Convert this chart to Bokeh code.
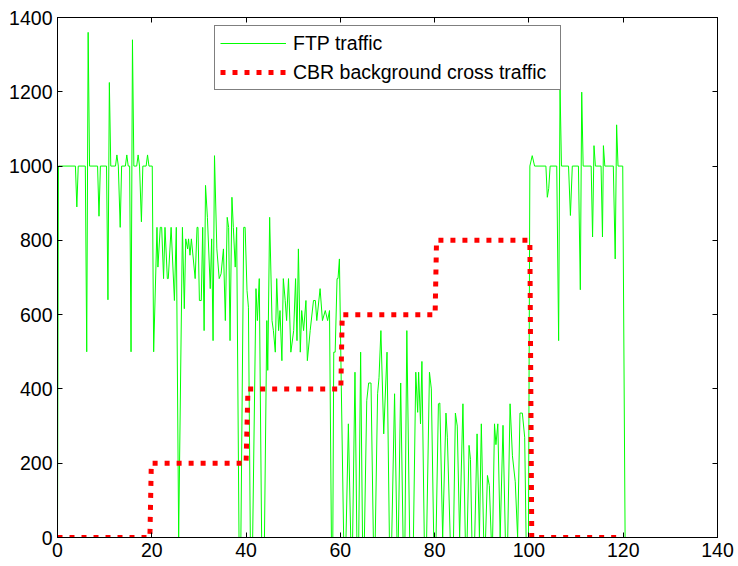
from bokeh.plotting import figure
from bokeh.models import (Range1d, FixedTicker, LinearAxis, Legend, LegendItem,
                          ColumnDataSource)
from bokeh.embed import file_html
from bokeh.resources import INLINE

# FTP throughput samples (time in s, rate)
ftp_t = [0, 0.2, 3.8, 4.1, 4.4, 5.9, 6.2, 6.5, 6.8, 8.5, 8.8, 9.1, 10.4, 10.7, 11.0, 11.3,
         12.3, 12.6, 12.9, 13.3, 13.6, 14.4, 14.7, 15.0, 15.3, 15.6, 15.9, 16.2, 16.8, 17.1,
         17.4, 17.8, 18.1, 18.8, 19.1, 19.4, 20.1, 20.4,
         21.1, 21.3, 21.8, 22.1, 22.5, 22.8, 23.3, 23.5, 24.1, 24.8, 25.2, 25.7, 26.5, 26.9,
         27.2, 27.6, 27.8, 28.1, 28.4, 29.2, 29.6, 29.8, 30.1, 30.5, 30.8, 31.1, 31.4, 31.8,
         32.4, 32.7, 33.0, 33.3, 33.8, 34.3, 34.7, 35.2, 35.6, 36.0, 36.3, 36.6, 37.0, 37.3,
         37.7, 38.0, 38.5, 38.9, 39.5, 39.8,
         40.2, 40.5, 40.9, 41.4, 42.1, 42.4, 42.8, 43.3, 43.9, 44.4, 44.6, 45.0, 45.5, 45.8,
         46.2, 46.5, 46.9, 47.2, 47.6, 47.9, 48.3, 48.6, 49.0, 49.5, 50.1, 50.5, 50.8, 51.1,
         51.5, 51.8, 52.2, 52.7, 53.0, 53.6, 54.3, 54.7, 55.0, 55.7, 56.2, 56.8, 57.3, 57.7,
         58.1, 58.4, 58.6, 58.9, 59.3, 59.5, 59.8, 60.2, 60.7,
         61.2, 61.7, 62.2, 62.6, 63.1, 63.5, 63.9, 64.3, 64.7, 65.1, 65.6, 66.0, 66.5, 67.0,
         67.4, 67.9, 68.2, 68.6, 69.2, 69.9, 70.4, 70.9, 71.5, 72.0, 72.3, 72.8, 73.3, 73.7,
         74.1, 74.7, 75.5, 76.0, 76.4, 76.6, 77.0, 77.3, 77.8, 78.3, 78.9, 79.3, 79.8, 80.3,
         80.8, 81.1, 81.7, 82.4, 82.7, 83.3, 84.0, 84.4, 84.8, 85.3, 86.0, 86.5, 86.9, 87.3,
         87.6, 87.9, 88.5, 89.0, 89.5, 89.9, 90.4, 90.8, 91.2, 91.6, 92.0, 92.3, 92.7, 93.0,
         93.4, 93.9, 94.5, 95.0, 95.5, 96.0, 96.5, 97.1, 97.6, 98.1, 98.6, 99.1, 99.4, 99.9,
         100.2, 100.7, 101.2, 103.6, 103.9, 104.2, 104.5, 105.9, 106.3, 106.6, 106.9, 108.4,
         108.8, 109.2, 110.5, 110.9, 111.2, 111.5, 113.2, 113.5, 113.8, 114.1, 115.3, 115.6,
         115.8, 116.1, 117.9, 118.3, 118.6, 118.9, 119.9, 120.4]
ftp_v = [0, 1000, 1000, 890, 1000, 1000, 500, 1360, 1000, 1000, 865, 1000, 1000, 640, 1225, 1000,
         1000, 1030, 1000, 835, 1000, 1000, 1030, 1000, 1000, 500, 1340, 1000, 1000, 1030,
         1000, 850, 1000, 1000, 1030, 1000, 1000, 500,
         835, 728, 835, 835, 697, 835, 697, 697, 835, 638, 835, 0, 835, 616,
         804, 777, 804, 760, 804, 697, 835, 835, 638, 638, 835, 557, 948, 862,
         670, 804, 530, 1028, 777, 697, 710, 777, 584, 862, 835, 530, 916, 835,
         728, 835, 0, 0, 835, 835,
         665, 620, 0, 0, 670, 584, 697, 0, 0, 584, 450, 862, 584, 557,
         499, 697, 557, 611, 476, 697, 638, 584, 697, 499, 557, 697, 530, 777,
         499, 611, 557, 638, 476, 557, 638, 638, 584, 670, 584, 611, 584, 611,
         0, 0, 499, 499, 697, 697, 750, 405, 0,
         0, 306, 0, 0, 445, 0, 0, 499, 0, 0, 369, 416, 416, 0,
         0, 387, 430, 557, 279, 499, 0, 0, 387, 0, 0, 416, 0, 0,
         557, 0, 0, 445, 337, 445, 306, 474, 0, 0, 445, 400, 0, 0,
         360, 362, 0, 335, 270, 0, 0, 335, 300, 0, 360, 0, 0, 248,
         210, 0, 0, 279, 0, 306, 0, 0, 167, 140, 0, 0, 306, 250,
         306, 0, 302, 0, 0, 360, 220, 150, 0, 335, 335, 270, 0, 0,
         1000, 1028, 1000, 1000, 916, 940, 1000, 1000, 530, 1215, 1000, 1000,
         867, 1000, 1000, 667, 1199, 1000, 1000, 809, 1055, 1000, 1000, 809,
         1055, 1000, 1000, 750, 1111, 1000, 1000, 0]

# CBR cross traffic: constant-rate steps
cbr_t = [0, 19.6, 19.9, 40.0, 40.4, 60.1, 60.4, 80.1, 80.4, 100.2, 100.6, 120]
cbr_v = [0, 0, 200, 200, 400, 400, 600, 600, 800, 800, 0, 0]

x_ticks = [0, 20, 40, 60, 80, 100, 120, 140]
y_ticks = [0, 200, 400, 600, 800, 1000, 1200, 1400]

FONT = "Liberation Sans"
FSIZE = "19.5px"

p = figure(width=738, height=566, output_backend="svg", toolbar_location=None,
           x_range=Range1d(0, 140), y_range=Range1d(0, 1400),
           min_border_left=57, min_border_right=21, min_border_top=17,
           min_border_bottom=29, x_axis_location=None, y_axis_location=None)
p.grid.visible = False
p.outline_line_color = "black"
p.outline_line_width = 1
p.background_fill_color = "white"
p.border_fill_color = "white"


def make_axis(ticks, labels=True):
    ax = LinearAxis(ticker=FixedTicker(ticks=ticks))
    ax.major_tick_in = 5
    ax.major_tick_out = 0
    ax.minor_tick_line_color = None
    ax.axis_line_color = "black"
    ax.major_tick_line_color = "black"
    ax.major_label_text_font = FONT
    if labels:
        ax.major_label_text_color = "black"
        ax.major_label_text_font_size = FSIZE
        ax.major_label_standoff = 5
    else:
        # tick marks only on the mirrored sides
        ax.major_label_text_color = None
        ax.major_label_text_font_size = "0px"
        ax.major_label_standoff = 0
    return ax


p.add_layout(make_axis(x_ticks), "below")
p.add_layout(make_axis(y_ticks), "left")
p.add_layout(make_axis(x_ticks, labels=False), "above")
p.add_layout(make_axis(y_ticks, labels=False), "right")

ftp_src = ColumnDataSource(data=dict(t=ftp_t, v=ftp_v))
cbr_src = ColumnDataSource(data=dict(t=cbr_t, v=cbr_v))

g = p.line("t", "v", source=ftp_src, line_color="#00ff00", line_width=1)
r = p.line("t", "v", source=cbr_src, line_color="#ff0000", line_width=5,
           line_dash="5 7", line_cap="butt")

legend = Legend(items=[LegendItem(label="FTP traffic", renderers=[g]),
                       LegendItem(label="CBR background cross traffic", renderers=[r])],
                location=(157, 447), orientation="vertical",
                label_text_font=FONT, label_text_font_size=FSIZE,
                label_text_color="black",
                border_line_color="black", border_line_width=1,
                background_fill_color="white", background_fill_alpha=1.0,
                padding=5, spacing=5, margin=0,
                label_height=24, glyph_height=24, glyph_width=66,
                label_standoff=7, label_width=262)
p.add_layout(legend)

open("out.html", "w").write(file_html(p, INLINE))
